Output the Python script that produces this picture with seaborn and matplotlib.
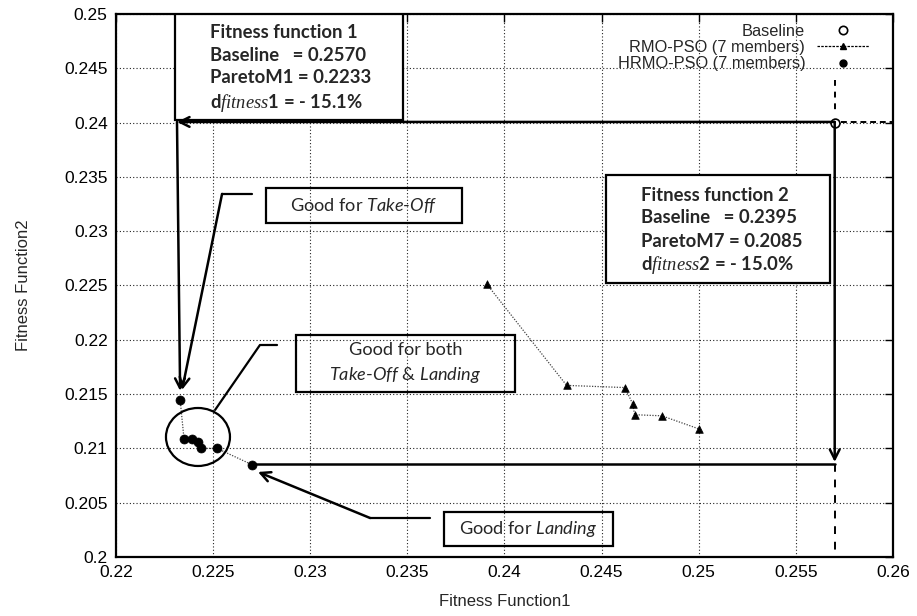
import matplotlib
matplotlib.use('Agg')
import matplotlib.pyplot as plt
import seaborn as sns
import pandas as pd
from matplotlib.patches import Rectangle, Ellipse
from matplotlib.lines import Line2D

# ---- data ----
baseline_f1 = [0.2570]
baseline_f2 = [0.2400]
rmo_f1 = [0.2391, 0.2432, 0.2462, 0.2466, 0.2467, 0.2481, 0.2500]
rmo_f2 = [0.2251, 0.2158, 0.2156, 0.2141, 0.2131, 0.2130, 0.2118]
hrmo_f1 = [0.2233, 0.2235, 0.2239, 0.2242, 0.2244, 0.2252, 0.2270]
hrmo_f2 = [0.2145, 0.2109, 0.2109, 0.2106, 0.2100, 0.2100, 0.2085]
xticks = [0.22, 0.225, 0.23, 0.235, 0.24, 0.245, 0.25, 0.255, 0.26]
xtick_labels = ['0.22', '0.225', '0.23', '0.235', '0.24', '0.245', '0.25', '0.255', '0.26']
yticks = [0.2, 0.205, 0.21, 0.215, 0.22, 0.225, 0.23, 0.235, 0.24, 0.245, 0.25]
ytick_labels = ['0.2', '0.205', '0.21', '0.215', '0.22', '0.225', '0.23', '0.235', '0.24', '0.245', '0.25']
legend_labels = ['Baseline', 'RMO-PSO (7 members)', 'HRMO-PSO (7 members)']

sns.set_style('white')
plt.rcParams['font.family'] = ['Liberation Sans', 'DejaVu Sans']
plt.rcParams['mathtext.fontset'] = 'custom'
plt.rcParams['mathtext.rm'] = 'Lato'
plt.rcParams['mathtext.it'] = 'Lato:italic'
plt.rcParams['mathtext.bf'] = 'Lato:bold'
plt.rcParams['mathtext.cal'] = 'Liberation Serif:italic'

fig = plt.figure(figsize=(9.17, 6.16), dpi=100)
ax = fig.add_axes([0.1265, 0.0958, 0.8473, 0.8815])

rmo_df = pd.DataFrame({'f1': rmo_f1, 'f2': rmo_f2})
hrmo_df = pd.DataFrame({'f1': hrmo_f1, 'f2': hrmo_f2})
base_df = pd.DataFrame({'f1': baseline_f1, 'f2': baseline_f2})

# connecting lines (thin dotted)
sns.lineplot(data=rmo_df, x='f1', y='f2', sort=False, ax=ax, color='#444444',
             lw=0.9, linestyle=(0, (1, 1.2)), zorder=3)
sns.lineplot(data=hrmo_df, x='f1', y='f2', sort=False, ax=ax, color='#444444',
             lw=0.9, linestyle=(0, (1, 1.2)), zorder=3)
sns.scatterplot(data=rmo_df, x='f1', y='f2', ax=ax, marker='^', s=30,
                color='black', edgecolor='black', linewidth=0.5, zorder=4)
sns.scatterplot(data=hrmo_df, x='f1', y='f2', ax=ax, marker='o', s=42,
                color='black', edgecolor='black', linewidth=0.5, zorder=4)
sns.scatterplot(data=base_df, x='f1', y='f2', ax=ax, marker='o', s=40,
                facecolor='white', edgecolor='black', linewidth=1.2, zorder=6)

ax.set_xlim(0.22, 0.26)
ax.set_ylim(0.2, 0.25)
ax.set_xticks(xticks)
ax.set_xticklabels(xtick_labels)
ax.set_yticks(yticks)
ax.set_yticklabels(ytick_labels)
ax.tick_params(direction='in', length=6, width=1, labelsize=12.5, top=True, right=True,
               colors='black', pad=6)
ax.grid(True, color='#222222', linestyle=(0, (1, 2)), lw=0.8, zorder=0)
ax.set_axisbelow(True)
for s in ax.spines.values():
    s.set_color('black')
    s.set_linewidth(1.6)
ax.set_xlabel('Fitness Function1', fontsize=12, labelpad=10)
ax.set_ylabel('Fitness Function2', fontsize=12, labelpad=24)

# ---- annotation boxes ----
def box(x0, x1, y0, y1, fill):
    r = Rectangle((x0, y0), x1 - x0, y1 - y0, facecolor='white' if fill else 'none',
                  edgecolor='black', lw=1.6, zorder=5 if fill else 2)
    ax.add_patch(r)

box(0.22304, 0.23477, 0.24024, 0.2500, True)
box(0.24523, 0.25676, 0.22523, 0.23518, True)
box(0.22773, 0.23782, 0.23076, 0.23398, False)
box(0.22927, 0.24054, 0.21519, 0.22044, False)
box(0.23688, 0.24558, 0.20101, 0.20414, False)

bfont = dict(fontfamily='Lato', fontweight='bold', fontsize=13.3, zorder=7, va='center')
for txt, y in zip(['Fitness function 1', 'Baseline   = 0.2570', 'ParetoM1 = 0.2233',
                   r'd$\mathcal{fitness}$1 = - 15.1%'],
                  [0.24834, 0.24622, 0.24411, 0.24180]):
    ax.text(0.22484, y, txt, **bfont)
for txt, y in zip(['Fitness function 2', 'Baseline   = 0.2395', 'ParetoM7 = 0.2085',
                   r'd$\mathcal{fitness}$2 = - 15.0%'],
                  [0.23333, 0.23122, 0.22901, 0.22689]):
    ax.text(0.24703, y, txt, **bfont)

nfont = dict(fontfamily='Lato', fontsize=13.1, zorder=7, va='center')
ax.text(0.23277, 0.23237, r'Good for $\mathit{Take}$-$\mathit{Off}$', ha='center', **nfont)
ax.text(0.2349, 0.21910, 'Good for both', ha='center', **nfont)
ax.text(0.2349, 0.21676, r'$\mathit{Take}$-$\mathit{Off}$ & $\mathit{Landing}$',
        ha='center', **nfont)
ax.text(0.24123, 0.20257, r'Good for $\mathit{Landing}$', ha='center', **nfont)

# ---- arrows and guide lines ----
aprops = dict(arrowstyle='->,head_length=0.7,head_width=0.35', color='black', lw=1.8,
              shrinkA=0, shrinkB=0)
def arrow(x0, y0, x1, y1):
    ax.annotate('', xy=(x1, y1), xytext=(x0, y0), arrowprops=aprops, zorder=6)
def seg(xs, ys, **kw):
    ax.add_line(Line2D(xs, ys, color='black', lw=kw.pop('lw', 1.8), zorder=5, **kw))

arrow(0.2570, 0.24006, 0.22314, 0.24006)
arrow(0.22314, 0.24006, 0.22330, 0.2153)
arrow(0.2570, 0.24006, 0.2570, 0.20875)
seg([0.2570, 0.2270], [0.20856, 0.20856])
seg([0.2570, 0.2570], [0.24392, 0.24098], lw=1.4, linestyle=(0, (3, 3)))
seg([0.2570, 0.2570], [0.20856, 0.2000], lw=1.4, linestyle=(0, (4, 4)))
seg([0.2573, 0.2600], [0.24006, 0.24006], lw=1.4, linestyle=(0, (3, 2)))

seg([0.2270, 0.22546], [0.23343, 0.23343], lw=1.6)
arrow(0.22546, 0.23343, 0.22340, 0.21538)
seg([0.22829, 0.22741, 0.22510], [0.21952, 0.21952, 0.21354], lw=1.6)
seg([0.23616, 0.23308], [0.20359, 0.20359], lw=1.6)
arrow(0.23308, 0.20359, 0.22731, 0.20783)

ax.add_patch(Ellipse((0.22422, 0.21105), 0.003295, 0.00534, facecolor='none',
                     edgecolor='black', lw=1.6, zorder=5))

# ---- legend ----
handles = [
    Line2D([], [], marker='o', markersize=6, markerfacecolor='white',
           markeredgecolor='black', markeredgewidth=1.2, linestyle='none'),
    Line2D([], [], marker='^', markersize=4, color='black', lw=0.9,
           linestyle=(0, (2, 1))),
    Line2D([], [], marker='o', markersize=5, color='black', linestyle='none'),
]
leg = ax.legend(handles, legend_labels, loc='upper right', markerfirst=False,
                frameon=False, fontsize=11.8, handlelength=3.2, handletextpad=0.7,
                labelspacing=0.08, bbox_to_anchor=(0.982, 1.0), borderaxespad=0.2)
leg.set_zorder(8)

fig.savefig('out.png', dpi=100)
